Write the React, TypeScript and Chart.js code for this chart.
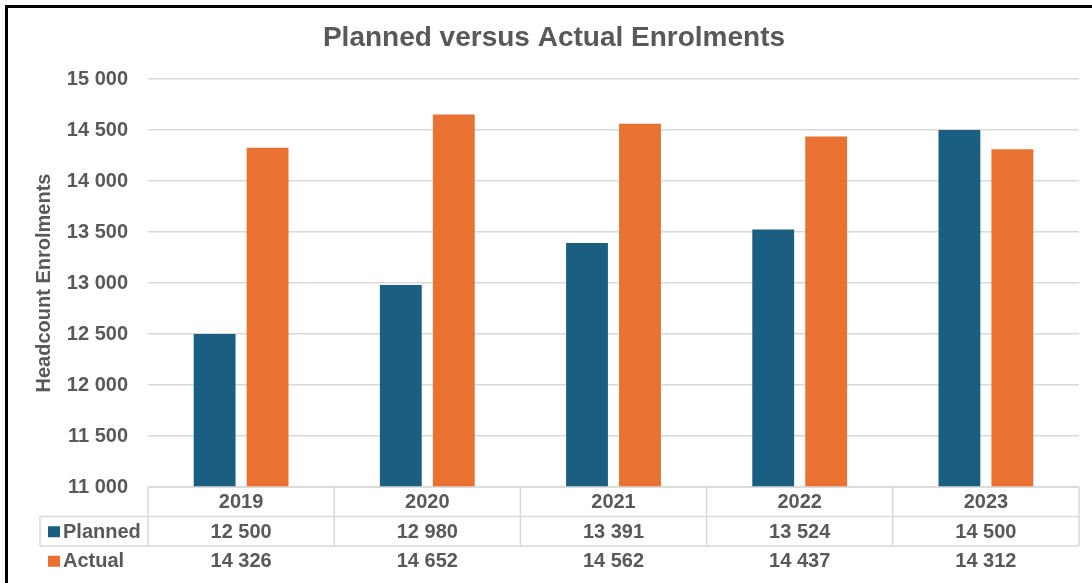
import React, { useEffect, useRef } from "react";
import { Chart, registerables } from "chart.js";

Chart.register(...registerables);

const categories = ["2019", "2020", "2021", "2022", "2023"];
const plannedValues = [12500, 12980, 13391, 13524, 14500];
const actualValues = [14326, 14652, 14562, 14437, 14312];
const seriesNames = ["Planned", "Actual"];
const seriesColors = ["#1A5E82", "#E97132"];
const yMin = 11000;
const yMax = 15000;
const yStep = 500;
const chartTitle = "Planned versus Actual Enrolments";
const yAxisTitle = "Headcount Enrolments";

const FONT = "'Liberation Sans', Arial, sans-serif";
const TEXT = "#595959";
const GRID = "#d9d9d9";

const fmt = (v: number): string =>
  Math.round(v)
    .toString()
    .replace(/\B(?=(\d{3})+(?!\d))/g, " ");

const tablePlugin = {
  id: "dataTable",
  afterDraw(chart: any) {
    const ctx = chart.ctx as CanvasRenderingContext2D;
    const xs = chart.scales.x;
    const area = chart.chartArea;
    const n = categories.length;
    const catW = area.width / n;
    const rowH = 29.5;
    const top = area.bottom;
    const legendLeft = 40;
    const rows = [plannedValues, actualValues];

    ctx.save();
    ctx.strokeStyle = GRID;
    ctx.lineWidth = 1.5;
    ctx.beginPath();
    ctx.moveTo(area.left, top);
    ctx.lineTo(area.right, top);
    for (let r = 1; r <= rows.length; r++) {
      const y = top + r * rowH;
      ctx.moveTo(legendLeft, y);
      ctx.lineTo(area.right, y);
    }
    for (let i = 0; i <= n; i++) {
      const x = i === n ? area.right : xs.getPixelForValue(i) - catW / 2;
      ctx.moveTo(x, top);
      ctx.lineTo(x, top + rows.length * rowH);
    }
    ctx.moveTo(legendLeft, top + rowH);
    ctx.lineTo(legendLeft, top + rows.length * rowH);
    ctx.stroke();

    ctx.fillStyle = TEXT;
    ctx.font = `bold 20px ${FONT}`;
    ctx.textAlign = "center";
    ctx.textBaseline = "middle";
    categories.forEach((c, i) => {
      const cx = xs.getPixelForValue(i);
      ctx.fillText(c, cx, top + rowH / 2 + 1);
      rows.forEach((vals, r) => {
        ctx.fillText(fmt(vals[i]), cx, top + (r + 1.5) * rowH + 1);
      });
    });

    rows.forEach((_, r) => {
      const cy = top + (r + 1.5) * rowH;
      ctx.fillStyle = seriesColors[r];
      ctx.fillRect(legendLeft + 8, cy - 5, 12, 11);
      ctx.fillStyle = TEXT;
      ctx.textAlign = "left";
      ctx.fillText(seriesNames[r], legendLeft + 23, cy + 1);
    });
    ctx.restore();
  },
};

export default function App() {
  const ref = useRef<HTMLCanvasElement | null>(null);

  useEffect(() => {
    if (!ref.current) return;
    Chart.defaults.font.family = FONT;
    const chart = new Chart(ref.current, {
      type: "bar",
      data: {
        labels: categories,
        datasets: [
          {
            label: seriesNames[0],
            data: plannedValues,
            backgroundColor: seriesColors[0],
            categoryPercentage: 0.569,
            barPercentage: 0.79,
          },
          {
            label: seriesNames[1],
            data: actualValues,
            backgroundColor: seriesColors[1],
            categoryPercentage: 0.569,
            barPercentage: 0.79,
          },
        ],
      },
      options: {
        animation: false,
        responsive: false,
        devicePixelRatio: 1,
        layout: { padding: { left: 29, right: 13, top: 0, bottom: 96 } },
        plugins: {
          legend: { display: false },
          tooltip: { enabled: false },
          title: {
            display: true,
            text: chartTitle,
            color: TEXT,
            font: { size: 28, weight: "bold", family: FONT },
            padding: { top: 21, bottom: 24.4 },
          },
        },
        scales: {
          x: {
            type: "category",
            display: false,
          },
          y: {
            min: yMin,
            max: yMax,
            afterFit(scale: any) {
              scale.width = 119;
            },
            ticks: {
              stepSize: yStep,
              color: TEXT,
              padding: 20,
              font: { size: 20, weight: "bold", family: FONT },
              callback: (v: any) => fmt(Number(v)),
            },
            grid: { color: GRID, lineWidth: 1.5, drawTicks: false },
            border: { display: false },
            title: {
              display: true,
              text: yAxisTitle,
              color: TEXT,
              font: { size: 20, weight: "bold", family: FONT },
              padding: { top: 3, bottom: 0 },
            },
          },
        },
      },
      plugins: [tablePlugin],
    });
    return () => chart.destroy();
  }, []);

  return (
    <div style={{ position: "fixed", left: 0, top: 0, width: 1092, height: 583, background: "#fff", overflow: "hidden" }}>
      <canvas ref={ref} width={1092} height={583} style={{ display: "block" }} />
      <div
        style={{
          position: "absolute",
          left: 5,
          top: 5,
          width: 1200,
          height: 700,
          borderTop: "3px solid #000",
          borderLeft: "3px solid #000",
          pointerEvents: "none",
        }}
      />
    </div>
  );
}
